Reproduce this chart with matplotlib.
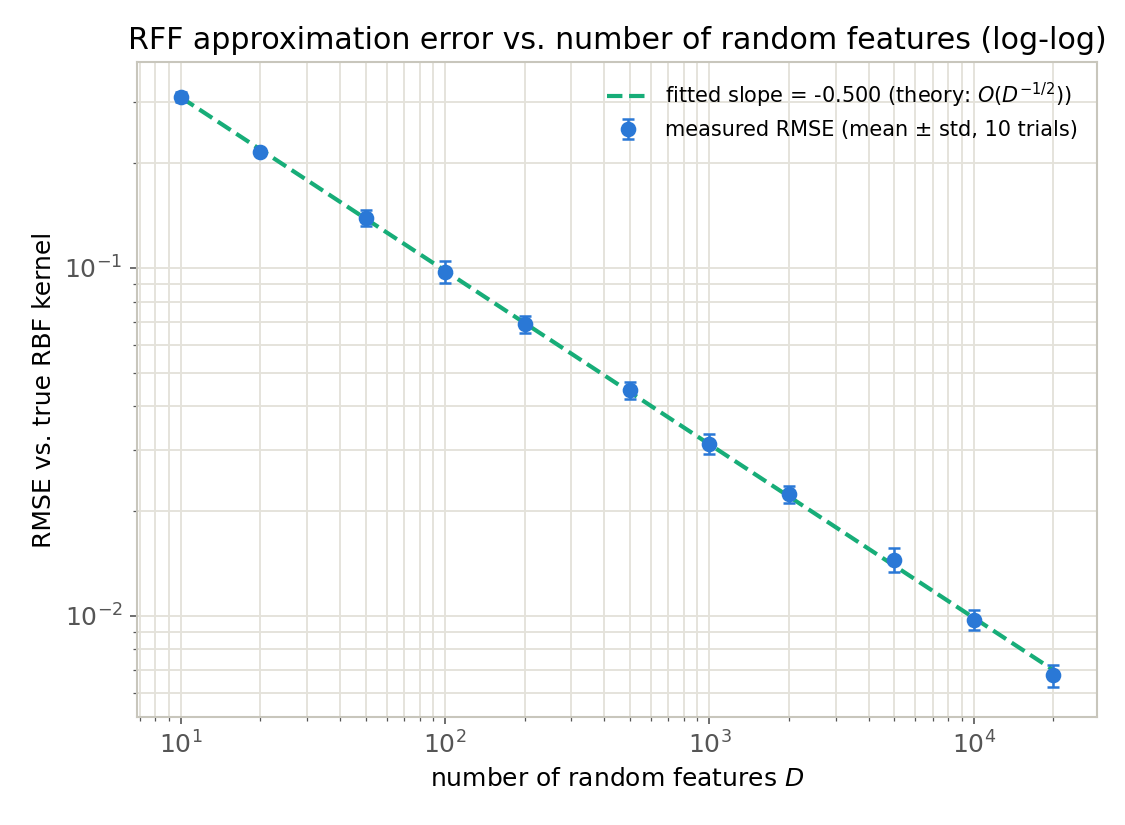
import matplotlib
matplotlib.use('Agg')
import matplotlib.pyplot as plt
import numpy as np

# Number of random features and measured RMSE (mean, std over 10 trials)
n_features = [10, 20, 50, 100, 200, 500, 1000, 2000, 5000, 10000, 20000]
rmse_mean = [0.310, 0.215, 0.139, 0.0974, 0.0690, 0.0444, 0.0312, 0.0224, 0.0145, 0.00974, 0.00673]
rmse_std = [0.011, 0.003, 0.0075, 0.0072, 0.0039, 0.0025, 0.0021, 0.00125, 0.00116, 0.00066, 0.0005]

slope_label = 'fitted slope = -0.500 (theory: $O(D^{-1/2})$)'

# Fit a line in log-log space
D = np.array(n_features, dtype=float)
coef = np.polyfit(np.log10(D), np.log10(rmse_mean), 1)
fit_vals = 10 ** np.polyval(coef, np.log10(D))

grid_color = '#e4e2da'
edge_color = '#c8c6bc'

fig, ax = plt.subplots(figsize=(7.5, 5.5), dpi=150)
fig.subplots_adjust(left=0.122, right=0.975, bottom=0.131, top=0.925)

ax.plot(D, fit_vals, linestyle='--', color='#17ad78', linewidth=2.0, label=slope_label, zorder=3)
ax.errorbar(D, rmse_mean, yerr=rmse_std, fmt='o', color='#2a78d6', markersize=6.5,
            capsize=3, elinewidth=1.2, capthick=1.2, label='measured RMSE (mean \u00b1 std, 10 trials)', zorder=4)

ax.set_xscale('log')
ax.set_yscale('log')
ax.grid(True, which='both', color=grid_color, linewidth=0.9)
ax.set_axisbelow(True)
for sp in ax.spines.values():
    sp.set_color(edge_color)
    sp.set_linewidth(1.0)
ax.tick_params(which='both', colors='#555555', labelsize=12)
ax.tick_params(which='major', length=3.5)
ax.tick_params(which='minor', length=2)

ax.set_title('RFF approximation error vs. number of random features (log-log)', fontsize=14.4)
ax.set_xlabel('number of random features $D$', fontsize=12)
ax.set_ylabel('RMSE vs. true RBF kernel', fontsize=12)

ax.legend(loc='upper right', frameon=False, fontsize=10)

fig.savefig('out.png', dpi=150)
